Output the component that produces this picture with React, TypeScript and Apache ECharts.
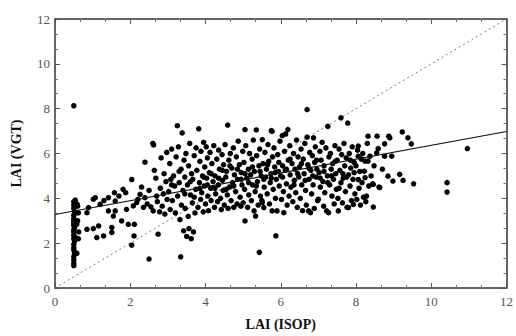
import React, { useEffect, useRef } from "react";
import * as echarts from "echarts";

const xTicks = [0, 2, 4, 6, 8, 10, 12];
const yTicks = [0, 2, 4, 6, 8, 10, 12];

const lowColumn: number[][] = [
  [0.5, 8.13], [0.5, 1.0], [0.5, 1.1], [0.5, 1.25], [0.5, 1.4], [0.52, 1.55], [0.5, 1.7], [0.5, 1.8],
  [0.5, 1.95], [0.52, 2.1], [0.5, 2.2], [0.5, 2.35], [0.5, 2.5], [0.5, 2.6], [0.52, 2.7], [0.5, 2.8],
  [0.5, 2.9], [0.5, 3.0], [0.5, 3.1], [0.5, 3.25], [0.52, 3.4], [0.5, 3.55], [0.5, 3.7], [0.5, 3.85],
  [0.55, 2.25], [0.58, 2.85], [0.6, 3.0], [0.62, 2.2], [0.58, 1.55], [0.6, 3.65], [0.62, 3.35], [0.63, 2.5],
  [0.54, 3.92], [0.59, 3.73],
];

const leftPoints: number[][] = [
  [0.89, 3.59], [0.85, 3.36], [1.07, 4.03], [1.02, 3.96], [1.2, 3.73], [1.42, 4.03], [1.6, 3.88],
  [1.58, 4.25], [1.81, 4.4], [1.88, 4.25], [2.04, 4.84], [1.42, 3.44], [1.6, 3.44], [1.55, 3.21],
  [1.9, 3.51], [2.08, 3.66], [2.17, 3.81], [2.26, 4.18], [2.39, 4.03], [2.61, 3.44], [1.77, 2.99],
  [1.95, 2.84], [2.11, 2.84], [0.85, 2.62], [1.02, 2.65], [1.16, 2.77], [1.51, 2.7], [1.51, 2.48],
  [1.11, 2.25], [1.29, 2.32], [2.1, 2.32], [2.04, 1.91], [2.5, 1.29], [2.39, 5.61], [2.3, 4.5],
  [2.45, 3.75], [2.5, 4.35], [2.2, 3.95], [2.35, 3.6], [1.3, 3.9], [1.7, 4.1],
];

const midPoints: number[][] = [
  [2.55, 3.62], [2.6, 6.45], [2.62, 6.38], [2.64, 5.25], [2.68, 4.9], [2.7, 4.1], [2.72, 3.85], [2.74, 2.4],
  [2.78, 3.4], [2.8, 4.45], [2.82, 5.8], [2.85, 3.65], [2.88, 4.2], [2.9, 5.1], [2.92, 3.3], [2.95, 4.75],
  [2.97, 6.05], [2.98, 3.95],
  [3.02, 4.3], [3.05, 5.55], [3.06, 3.5], [3.08, 4.85], [3.1, 6.2], [3.12, 3.9], [3.15, 5.0], [3.18, 4.55],
  [3.2, 3.35], [3.22, 5.85], [3.25, 7.24], [3.26, 4.1], [3.28, 6.3], [3.3, 4.7], [3.32, 3.05], [3.34, 1.39],
  [3.35, 5.3], [3.36, 3.7], [3.38, 6.92], [3.4, 4.35], [3.42, 2.55], [3.43, 5.7], [3.45, 4.95], [3.46, 3.55],
  [3.48, 6.0], [3.5, 2.3],
  [3.52, 4.6], [3.54, 3.2], [3.55, 5.45], [3.56, 2.65], [3.58, 6.45], [3.6, 4.15], [3.62, 2.2], [3.63, 5.1],
  [3.65, 3.8], [3.66, 4.85], [3.68, 2.5], [3.7, 5.9], [3.72, 3.35], [3.74, 4.4], [3.75, 6.25], [3.77, 5.25],
  [3.8, 3.6], [3.82, 7.1], [3.84, 4.7], [3.85, 5.65], [3.87, 3.95], [3.88, 6.1], [3.9, 4.25], [3.92, 5.0],
  [3.94, 3.4], [3.95, 6.5], [3.97, 4.55], [3.98, 5.4],
  [4.0, 3.75], [4.02, 6.3], [4.03, 4.9], [4.05, 5.8], [4.06, 4.1], [4.08, 3.45], [4.1, 5.15], [4.12, 6.05],
  [4.14, 4.45], [4.15, 3.9], [4.17, 5.55], [4.2, 4.75], [4.22, 6.35], [4.24, 3.6], [4.25, 5.0], [4.27, 4.2],
  [4.3, 5.75], [4.32, 3.85], [4.34, 4.6], [4.35, 6.15], [4.37, 5.3], [4.4, 4.0], [4.42, 3.5], [4.44, 5.95],
  [4.45, 4.8], [4.47, 4.35], [4.48, 5.5],
  [4.5, 3.7], [4.52, 6.4], [4.54, 4.95], [4.56, 5.2], [4.58, 4.15], [4.59, 7.27], [4.6, 3.55], [4.62, 5.7],
  [4.64, 4.5], [4.66, 6.0], [4.68, 3.9], [4.7, 5.35], [4.72, 4.7], [4.74, 6.25], [4.75, 3.6], [4.77, 5.05],
  [4.8, 4.3], [4.82, 5.85], [4.84, 3.75], [4.85, 4.85], [4.87, 6.55], [4.9, 5.5], [4.92, 4.05], [4.94, 3.65],
  [4.95, 5.15], [4.97, 4.6], [4.99, 6.1],
  [5.0, 3.8], [5.02, 5.6], [5.04, 4.4], [5.05, 7.07], [5.05, 2.99], [5.07, 6.35], [5.1, 4.9], [5.12, 3.6],
  [5.14, 5.3], [5.15, 4.15], [5.17, 6.0], [5.2, 5.05], [5.22, 3.9], [5.24, 5.75], [5.25, 4.6], [5.27, 6.6],
  [5.29, 3.44], [5.3, 5.2], [5.32, 4.3], [5.33, 3.21], [5.35, 7.05], [5.36, 5.9], [5.38, 4.75], [5.4, 3.7],
  [5.42, 5.45], [5.43, 1.59], [5.44, 6.2], [5.46, 4.1], [5.48, 5.0],
  [5.5, 3.9], [5.51, 6.62], [5.51, 3.81], [5.53, 5.55], [5.55, 3.59], [5.56, 4.5], [5.58, 6.05], [5.6, 4.95],
  [5.62, 5.3], [5.64, 4.2], [5.66, 6.4], [5.68, 5.65], [5.7, 3.75], [5.72, 4.7], [5.74, 5.1], [5.75, 7.02],
  [5.77, 3.44], [5.77, 6.99], [5.78, 5.85], [5.8, 4.4], [5.82, 6.25], [5.84, 5.4], [5.86, 4.0], [5.87, 2.33],
  [5.88, 4.85], [5.9, 3.44], [5.92, 5.95], [5.94, 5.2], [5.96, 4.55], [5.98, 6.55],
  [6.0, 5.0], [6.02, 3.95], [6.04, 6.8], [6.05, 5.45], [6.07, 4.3], [6.08, 3.36], [6.1, 6.1], [6.12, 5.25],
  [6.13, 6.87], [6.15, 4.65], [6.17, 3.7], [6.19, 7.07], [6.2, 5.7], [6.22, 4.1], [6.24, 6.35], [6.25, 5.05],
  [6.27, 4.5], [6.3, 5.55], [6.32, 3.85], [6.34, 6.0], [6.36, 4.8], [6.38, 5.3], [6.4, 4.25], [6.42, 6.6],
  [6.44, 3.6], [6.46, 5.85], [6.48, 4.95],
  [6.5, 5.4], [6.52, 4.0], [6.54, 6.2], [6.56, 4.6], [6.58, 3.45], [6.6, 5.75], [6.62, 5.1], [6.64, 6.45],
  [6.66, 4.35], [6.68, 3.7], [6.7, 7.96], [6.7, 6.73], [6.72, 5.5], [6.74, 3.44], [6.75, 4.85], [6.77, 6.05],
  [6.79, 3.36], [6.8, 5.25], [6.82, 4.2], [6.84, 5.9], [6.86, 4.6], [6.87, 6.7], [6.89, 3.55], [6.9, 5.6],
  [6.92, 6.3], [6.94, 4.95], [6.96, 5.3], [6.98, 3.9],
  [7.0, 3.96], [7.02, 5.15], [7.04, 6.1], [7.05, 4.5], [7.07, 5.7], [7.1, 6.5], [7.12, 4.75], [7.14, 3.65],
  [7.15, 5.45], [7.17, 4.25], [7.2, 6.25], [7.22, 3.44], [7.24, 5.0], [7.25, 7.21], [7.27, 3.36], [7.28, 5.85],
  [7.3, 4.6], [7.32, 6.0], [7.34, 5.3], [7.36, 4.1], [7.38, 5.55], [7.4, 4.85], [7.42, 3.75], [7.44, 6.35],
  [7.46, 5.1], [7.48, 4.4],
  [7.5, 5.7], [7.52, 4.0], [7.53, 3.44], [7.55, 6.2], [7.57, 5.25], [7.6, 7.59], [7.6, 4.7], [7.62, 5.95],
  [7.64, 3.8], [7.66, 4.9], [7.68, 6.45], [7.7, 5.45], [7.72, 4.3], [7.74, 5.8], [7.76, 3.6], [7.78, 7.36],
  [7.8, 3.59], [7.8, 5.05], [7.82, 6.0], [7.84, 4.55], [7.86, 5.35], [7.88, 3.9], [7.9, 6.3], [7.92, 4.85],
  [7.93, 3.73], [7.95, 5.6], [7.97, 4.2],
  [8.0, 5.45], [8.02, 3.95], [8.04, 6.15], [8.06, 6.33], [8.06, 5.88], [8.06, 4.84], [8.08, 4.45], [8.1, 5.2],
  [8.12, 3.7], [8.14, 5.75], [8.16, 4.7], [8.18, 6.0], [8.2, 4.05], [8.22, 5.21], [8.24, 5.66], [8.24, 4.92],
  [8.26, 3.85], [8.28, 4.1], [8.3, 6.45], [8.32, 6.77], [8.32, 5.66], [8.34, 4.55], [8.37, 5.88], [8.4, 5.0],
  [8.44, 4.65], [8.46, 3.61], [8.46, 4.62], [8.48, 5.45],
];

// Extra points filling the densest part of the cloud
const densePoints: number[][] = [
  [3.1, 4.6], [3.3, 5.2], [3.45, 4.2], [3.6, 4.75], [3.7, 4.05], [3.85, 4.45], [3.95, 4.95], [4.05, 4.6],
  [4.15, 5.1], [4.25, 4.45], [4.35, 4.9], [4.45, 5.25], [4.55, 4.4], [4.65, 5.45], [4.75, 4.55], [4.85, 5.3],
  [4.95, 4.85], [5.05, 5.1], [5.15, 4.7], [5.25, 5.4], [5.35, 4.55], [5.45, 5.2], [5.55, 4.85], [5.65, 5.5],
  [5.75, 4.9], [5.85, 5.15], [5.95, 5.6], [6.05, 4.95], [6.15, 5.3], [6.25, 5.75], [6.35, 4.6], [6.45, 5.1],
  [6.55, 5.55], [6.65, 4.8], [6.75, 5.35], [6.85, 5.0], [6.95, 5.7], [7.05, 4.9], [7.15, 5.2], [7.25, 4.7],
  [7.35, 5.0], [7.45, 5.65], [7.55, 4.45], [7.65, 5.1], [7.75, 4.95], [7.85, 5.7], [7.95, 5.15],
];

const rightPoints: number[][] = [
  [8.55, 6.03], [8.56, 6.77], [8.59, 6.22], [8.61, 4.5], [8.63, 4.48], [8.7, 5.3], [8.76, 6.43], [8.76, 5.88],
  [8.85, 4.99], [8.87, 6.77], [8.9, 6.7], [8.95, 5.88], [8.98, 4.77], [9.16, 5.07], [9.23, 6.96], [9.25, 4.8],
  [9.38, 6.7], [9.47, 6.43], [9.53, 4.65], [10.42, 4.7], [10.42, 4.28], [10.96, 6.22],
];

const regressionLine: number[][] = [[0, 3.28], [12, 6.98]];
const oneToOneLine: number[][] = [[0, 0], [12, 12]];

const serif = "'Liberation Serif', 'DejaVu Serif', serif";

export default function App() {
  const ref = useRef<HTMLDivElement>(null);
  useEffect(() => {
    document.body.style.margin = "0";
    if (!ref.current) return;
    const chart = echarts.init(ref.current, null, { renderer: "svg" });
    const baseAxis = {
      min: 0,
      max: 12,
      interval: 2,
      axisLine: { show: true, onZero: false, lineStyle: { color: "#333", width: 1.5 } },
      axisTick: { show: true, inside: true, length: 5, lineStyle: { color: "#555", width: 1 } },
      minorTick: { show: true, splitNumber: 3, length: 3, lineStyle: { color: "#777", width: 1 } },
      splitLine: { show: false },
    };
    const labelStyle = { color: "#555", fontFamily: serif, fontSize: 13 };
    const nameStyle = { color: "#111", fontFamily: serif, fontSize: 14, fontWeight: "bold" as const };
    chart.setOption({
      animation: false,
      grid: { left: 55, right: 7, top: 19, bottom: 47, containLabel: false },
      xAxis: [
        {
          ...baseAxis,
          type: "value",
          position: "bottom",
          name: "LAI (ISOP)",
          nameLocation: "middle",
          nameGap: 29,
          nameTextStyle: nameStyle,
          axisLabel: { ...labelStyle, margin: 7, formatter: (v: number) => (xTicks.includes(v) ? String(v) : "") },
        },
        { ...baseAxis, type: "value", position: "top", axisLabel: { show: false } },
      ],
      yAxis: [
        {
          ...baseAxis,
          type: "value",
          position: "left",
          name: "LAI (VGT)",
          nameLocation: "middle",
          nameGap: 32,
          nameTextStyle: nameStyle,
          axisLabel: { ...labelStyle, margin: 5, formatter: (v: number) => (yTicks.includes(v) ? String(v) : "") },
        },
        { ...baseAxis, type: "value", position: "right", axisLabel: { show: false } },
      ],
      series: [
        {
          type: "line",
          data: oneToOneLine,
          showSymbol: false,
          symbol: "none",
          lineStyle: { color: "#777", width: 1, type: [2, 3] },
          z: 1,
        },
        {
          type: "scatter",
          data: [...lowColumn, ...leftPoints, ...midPoints, ...densePoints, ...rightPoints],
          symbol: "circle",
          symbolSize: 5.5,
          itemStyle: { color: "#000", opacity: 1 },
          z: 2,
        },
        {
          type: "line",
          data: regressionLine,
          showSymbol: false,
          symbol: "none",
          lineStyle: { color: "#111", width: 1.2 },
          z: 3,
        },
      ],
    });
    return () => chart.dispose();
  }, []);
  return <div ref={ref} style={{ width: 516, height: 336 }} />;
}
